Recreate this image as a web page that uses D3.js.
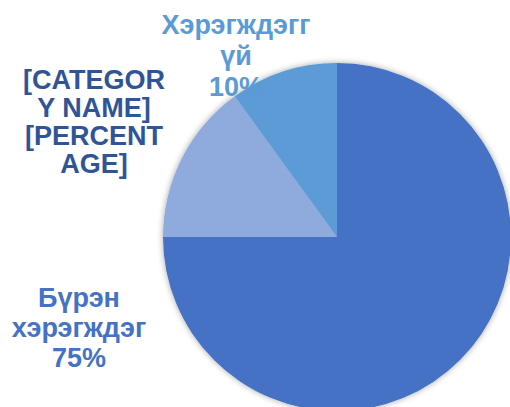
<!DOCTYPE html>
<html>
<head>
<meta charset="utf-8">
<script src="https://cdn.jsdelivr.net/npm/d3@7"></script>
<style>
  body { margin: 0; background: #fff; }
  svg { display: block; }
  .lbl { font-family: "Liberation Sans", Arial, sans-serif; font-weight: bold; font-size: 27px; }
</style>
</head>
<body>
<div id="chart"></div>
<script>
// data
var categories = ["Бүрэн хэрэгждэг", "Хэсэгчлэн", "Хэрэгждэггүй"];
var values = [75, 15, 10];
var colors = ["#4472C4", "#8FAADC", "#5B9BD5"];

// labels as they are wrapped in the picture
var labelLines = [
  ["Бүрэн", "хэрэгждэг", "75%"],
  ["[CATEGOR", "Y NAME]", "[PERCENT", "AGE]"],
  ["Хэрэгждэгг", "үй", "10%"]
];
var labelColors = ["#4472C4", "#2F5597", "#5B9BD5"];

var width = 510, height = 407;
var cx = 337, cy = 237, radius = 174;

var svg = d3.select("#chart")
    .append("svg")
    .attr("width", width)
    .attr("height", height);

var defs = svg.append("defs");
var f = defs.append("filter")
    .attr("id", "shadow")
    .attr("x", "-20%").attr("y", "-20%")
    .attr("width", "140%").attr("height", "140%");
f.append("feDropShadow")
    .attr("dx", 0).attr("dy", 0)
    .attr("stdDeviation", 3)
    .attr("flood-color", "#000")
    .attr("flood-opacity", 0.35);

var pie = d3.pie().sort(null).value(function(d){ return d; });
var arc = d3.arc().innerRadius(0).outerRadius(radius);

var g = svg.append("g")
    .attr("transform", "translate(" + cx + "," + cy + ")");

g.append("g")
    .attr("filter", "url(#shadow)")
    .selectAll("path")
    .data(pie(values))
    .enter().append("path")
    .attr("d", arc)
    .attr("fill", function(d, i){ return colors[i]; });

// label anchor points (relative to pie centre)
var labelPos = [
  {x: -258, y: 70, lh: 30},
  {x: -243, y: -148, lh: 28},
  {x: -101, y: -203, lh: 31}
];

labelLines.forEach(function(lines, i){
  var t = g.append("text")
      .attr("class", "lbl")
      .attr("text-anchor", "middle")
      .attr("fill", labelColors[i]);
  lines.forEach(function(s, j){
    t.append("tspan")
      .attr("x", labelPos[i].x)
      .attr("y", labelPos[i].y + j * labelPos[i].lh)
      .text(s);
  });
});
</script>
</body>
</html>
